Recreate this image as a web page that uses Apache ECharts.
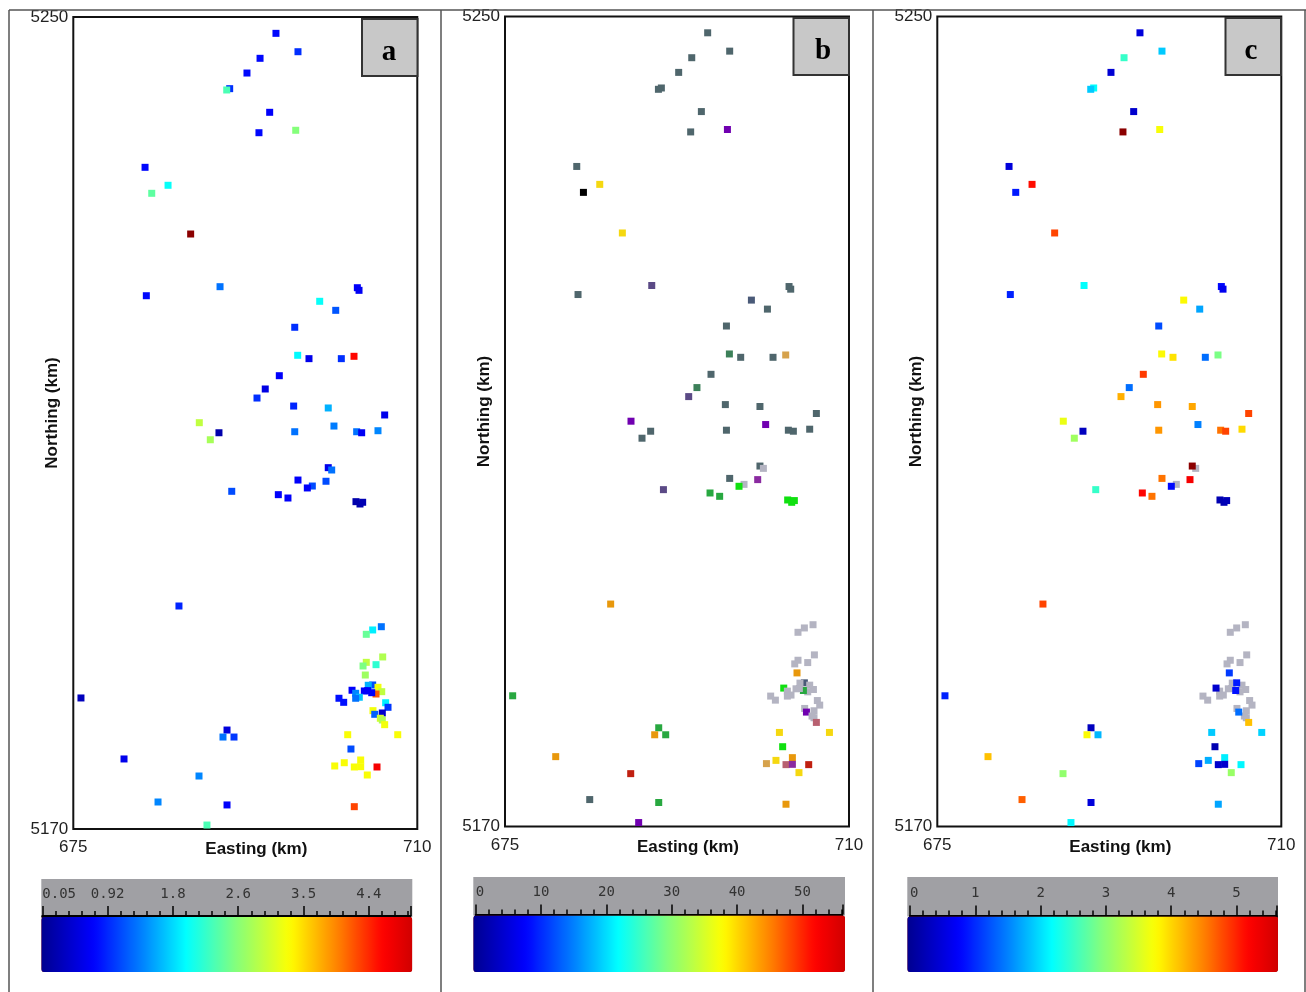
<!DOCTYPE html>
<html>
<head>
<meta charset="utf-8">
<style>html,body{margin:0;padding:0;background:#fff}#chart{width:1306px;height:992px}</style>
<script src="https://cdn.jsdelivr.net/npm/echarts@6/dist/echarts.min.js"></script>
</head>
<body>
<div id="chart"></div>
<script>
// Station locations (km)
const stationEast = [695.62,697.86,694.00,692.67,690.91,690.61,694.98,693.89,697.63,682.30,684.64,682.98,686.94,689.93,682.43,703.90,704.07,700.07,701.70,697.53,
697.83,698.98,702.27,703.56,695.96,694.53,693.69,697.42,700.94,706.68,687.82,689.82,688.94,697.53,701.52,703.83,704.34,706.00,700.94,701.29,
697.86,700.71,699.32,698.81,691.12,695.86,696.84,703.76,704.17,704.44,685.75,675.78,690.64,690.23,691.35,680.16,687.79,683.62,690.64,688.60,
706.34,705.46,704.81,706.48,705.80,704.81,704.48,704.71,705.46,705.01,706.00,706.38,705.80,705.36,704.95,704.61,703.36,703.73,704.10,703.73,
702.03,702.51,706.78,707.02,705.49,705.67,706.44,706.24,706.44,706.68,702.92,708.01,703.25,704.24,702.57,701.60,703.59,704.24,705.90,704.91,703.59];
const stationNorth = [5248.39,5246.58,5245.93,5244.48,5242.94,5242.81,5240.61,5238.60,5238.84,5235.19,5233.42,5232.63,5228.62,5223.43,5222.54,5223.33,5223.07,5221.99,5221.10,5219.43,
5216.67,5216.34,5216.34,5216.57,5214.66,5213.35,5212.46,5211.67,5211.48,5210.79,5210.03,5209.04,5208.35,5209.14,5209.70,5209.14,5209.04,5209.24,5205.60,5205.37,
5204.38,5204.26,5203.79,5203.60,5203.27,5202.94,5202.61,5202.25,5202.02,5202.19,5191.97,5182.91,5179.75,5179.06,5179.06,5176.90,5175.22,5172.66,5172.37,5170.39,
5189.93,5189.61,5189.18,5186.95,5186.19,5186.42,5186.06,5185.17,5184.19,5184.16,5183.96,5183.53,5183.30,5183.43,5183.63,5183.60,5183.67,5183.37,5182.98,5182.88,
5182.88,5182.48,5182.44,5181.99,5181.66,5181.30,5181.43,5180.91,5180.74,5180.28,5179.29,5179.29,5177.88,5176.80,5176.53,5176.21,5176.11,5176.14,5176.11,5175.32,5172.20];

// Panel a values
const valuesA = [.75,.95,.75,.75,.95,2.35,.7,.75,2.65,.75,2,2.45,5.5,1.3,.75,.7,.65,2,1.15,.95,
1.95,.6,.95,4.6,.7,.55,.95,.9,1.6,.6,3,.2,2.85,1.3,1.35,1.3,.65,1.4,.6,1.3,
.7,1.1,1.1,.7,1.1,.7,.7,.2,.2,.25,.9,.3,.5,1.3,1,.6,1.4,1.4,.7,2.35,
1.3,1.9,2.5,2.9,2.2,3,2.6,2.8,1.1,1.6,3.3,3,4.2,.7,.7,.7,.7,1.4,1.7,1.3,
.8,.8,1.9,1,3.3,1.2,.4,3.1,2.9,3.3,3.35,3.35,1.1,3.35,3.35,3.35,3.35,3.35,4.7,3.35,4.3];

// Panel b classes, one letter per station
const classesB = ["ssssssssps","ykydssstss","gssnsgdsss","pssspssssx","smxLdGGLLL",
"oGGoGorsGp","xxxxxxxotx","xxxGxxLxxx","xxxxxpxxxq","yyLoynqmryo"];

// Panel c values (null: no data)
const valuesC = [.5,1.9,2.5,.45,2.2,1.9,.4,6,3.75,.5,5.15,.9,4.85,2.2,.95,.8,.65,3.8,1.7,1.2,
3.8,3.95,1.4,2.9,4.9,1.4,4.25,4.4,4.3,4.85,3.65,.3,3.15,4.4,1.5,4.6,4.85,4,6,null,
4.6,5.3,null,.8,2.5,5.2,4.6,.2,.2,.25,4.85,.95,.3,3.8,1.8,4.15,3.05,4.7,.5,2.15,
null,null,null,null,null,null,null,1.1,.9,null,null,null,null,.85,null,null,.4,null,null,null,
null,null,null,null,null,1.4,null,null,null,4.15,1.9,1.95,.2,2.1,1.75,1.15,.4,.4,2.15,3.1,1.7];

const panelNames = ["a","b","c"];
const eastLabels = [675,710];
const northLabels = [5170,5250];
const scaleTicks = [[0.05,0.925,1.8,2.675,3.55,4.425],[0,10,20,30,40,50],[0,1,2,3,4,5]];
const scaleLabels = [["0.05","0.92","1.8","2.6","3.5","4.4"],["0","10","20","30","40","50"],["0","1","2","3","4","5"]];
const scaleMin = [0.05,0,0];
const scaleEnd = [4.98,56.1,5.62];
const scaleStep = [0.175,2,0.2];

// styles
const classColor = {s:"#4f666c",t:"#4a5a78",g:"#3c8059",d:"#5b4a86",p:"#7000b0",m:"#8a2aa0",y:"#f5d810",k:"#000000",
  n:"#d6a24c",o:"#e8980c",q:"#b86070",r:"#c02010",L:"#10e010",G:"#28a840",x:"#b4b4c2"};
const anchors = [[0,[0,0,143]],[.14,[0,0,255]],[.27,[0,128,255]],[.39,[0,255,255]],[.52,[128,255,128]],[.67,[255,255,0]],[.8,[255,128,0]],[.92,[255,0,0]],[1,[208,0,0]]];
function jet(n){const out=[];for(let i=0;i<n;i++){const t=i/(n-1);let k=0;while(k<anchors.length-2&&t>anchors[k+1][0])k++;
  const a=anchors[k],b=anchors[k+1],f=(t-a[0])/(b[0]-a[0]);
  out.push("rgb("+a[1].map((c,j)=>Math.round(c+(b[1][j]-c)*f)).join(",")+")");}return out;}
const tickFont = {fontFamily:"Liberation Sans",fontSize:17,color:"#222"};
const nameFont = {fontFamily:"Liberation Sans",fontSize:17,fontWeight:"bold",color:"#111"};

const plots = [{left:73.3,top:17,width:344,height:812},{left:505,top:16.5,width:344,height:810},{left:937.3,top:16.5,width:344,height:810}];
const bars = [{left:42.3,width:368,bar:41.3,barW:371,gray:879,line:916,bot:972,max:5.02},
              {left:475.7,width:366.6,bar:473.3,barW:371.7,gray:877,line:914.5,bot:972,max:56.7},
              {left:910,width:367,bar:907.3,barW:370.7,gray:877,line:915.5,bot:972,max:5.67}];

const grid=[],xAxis=[],yAxis=[],graphic=[],visualMap=[];
plots.forEach((p,i)=>{
  grid.push(Object.assign({show:true,borderColor:"#111",borderWidth:2,backgroundColor:"#fff"},p));
  xAxis.push({type:"value",gridIndex:i,min:675,max:710,splitLine:{show:false},axisLine:{show:false},axisTick:{show:false},
    axisLabel:Object.assign({customValues:eastLabels,margin:10,formatter:v=>String(v)},tickFont),
    name:"Easting (km)",nameLocation:"middle",nameGap:12,nameMoveOverlap:false,nameTextStyle:Object.assign({padding:[0,0,0,22]},nameFont)});
  yAxis.push({type:"value",gridIndex:i,min:5170,max:5250,splitLine:{show:false},axisLine:{show:false},axisTick:{show:false},
    axisLabel:Object.assign({customValues:northLabels,margin:5,formatter:v=>String(v)},tickFont),
    name:"Northing (km)",nameLocation:"middle",nameGap:12,nameRotate:90,nameMoveOverlap:false,nameTextStyle:Object.assign({padding:[0,0,0,20]},nameFont)});
});
bars.forEach((b,i)=>{
  grid.push({left:b.left,width:b.width,top:b.line,height:1});
  yAxis.push({type:"value",gridIndex:3+i,min:0,max:1,show:false});
  const minors=[];for(let v=scaleMin[i];v<=scaleEnd[i]+1e-6;v+=scaleStep[i])minors.push(+v.toFixed(3));
  const lab=scaleLabels[i],ticks=scaleTicks[i];
  xAxis.push({type:"value",gridIndex:3+i,position:"top",min:scaleMin[i],max:scaleEnd[i],splitLine:{show:false},
    axisLine:{show:true,onZero:false,lineStyle:{color:"#000",width:2}},
    axisTick:{show:true,customValues:ticks.concat([scaleEnd[i]]),length:10,lineStyle:{color:"#000",width:1.5}},
    axisLabel:{show:true,customValues:ticks,margin:15,alignMinLabel:"left",hideOverlap:false,fontFamily:"DejaVu Sans Mono",fontSize:14,color:"#333",
      formatter:v=>lab[ticks.indexOf(v)]||""}});
  xAxis.push({type:"value",gridIndex:3+i,position:"bottom",min:scaleMin[i],max:scaleEnd[i],splitLine:{show:false},
    axisLine:{show:true,onZero:false,lineStyle:{color:"#000",width:2}},
    axisTick:{show:true,inside:true,customValues:minors,length:6,lineStyle:{color:"#000",width:1.5}},
    axisLabel:{show:false}});
  graphic.push({type:"rect",z:-1,shape:{x:b.bar,y:b.gray,width:b.barW,height:b.line-b.gray+1},style:{fill:"#a0a0a4"}});
});
// xAxis indices: 0-2 plots, 3/4 bar a, 5/6 bar b, 7/8 bar c
function pts(vals){const out=[];vals.forEach((v,i)=>{if(v!==null)out.push([stationEast[i],stationNorth[i],v]);});return out;}
function gray(vals){const out=[];vals.forEach((v,i)=>{if(v===null)out.push([stationEast[i],stationNorth[i]]);});return out;}
const base={type:"scatter",symbol:"rect",symbolSize:7,silent:true,clip:false,itemStyle:{opacity:1}};
const series=[
  Object.assign({},base,{xAxisIndex:0,yAxisIndex:0,data:pts(valuesA)}),
  Object.assign({},base,{xAxisIndex:1,yAxisIndex:1,data:classesB.join("").split("").map((c,i)=>[stationEast[i],stationNorth[i],c]),
    encode:{x:0,y:1},dimensions:["e","n",{name:"c",type:"ordinal"}],
    itemStyle:{opacity:1,color:p=>classColor[p.value[2]]}}),
  Object.assign({},base,{xAxisIndex:2,yAxisIndex:2,data:gray(valuesC),itemStyle:{opacity:1,color:classColor.x}}),
  Object.assign({},base,{xAxisIndex:2,yAxisIndex:2,data:pts(valuesC)}),
  Object.assign({},base,{xAxisIndex:1,yAxisIndex:1,data:[]})
];
[0,4,3].forEach((s,i)=>{
  const b=bars[i];
  const lo=i===0?0.02:(i===1?-0.4:-0.04);
  visualMap.push({type:"continuous",seriesIndex:s,dimension:2,min:lo,max:b.max,range:[lo,b.max-0.001],orient:"horizontal",
    left:b.bar,top:b.line+1,itemWidth:b.bot-b.line-1,itemHeight:b.barW,padding:0,calculable:false,hoverLink:false,borderRadius:0,
    inRange:{color:jet(60),opacity:1},outOfRange:{color:"#8b0000",opacity:1},text:null,showLabel:false});
});
// table rules
[9,441,873,1305].forEach(x=>graphic.push({type:"line",z:20,shape:{x1:x,y1:10,x2:x,y2:992},style:{stroke:"#555",lineWidth:1.5}}));
graphic.push({type:"line",z:20,shape:{x1:9,y1:10,x2:1306,y2:10},style:{stroke:"#555",lineWidth:1.5}});
// panel tags
[[362,19,389],[793.5,18,823],[1225.5,18,1251]].forEach((t,i)=>{
  graphic.push({type:"rect",z:21,shape:{x:t[0],y:t[1],width:55.5,height:57},style:{fill:"#c8c8c8",stroke:"#333",lineWidth:2}});
  graphic.push({type:"text",z:22,style:{text:panelNames[i],x:t[2],y:t[1]+34,textAlign:"center",textVerticalAlign:"middle",
    font:"bold 29px 'Liberation Serif'",fill:"#000"}});
});
const chart=echarts.init(document.getElementById("chart"),null,{renderer:"canvas"});
chart.setOption({animation:false,backgroundColor:"#fff",grid,xAxis,yAxis,series,visualMap,graphic});
</script>
</body>
</html>
